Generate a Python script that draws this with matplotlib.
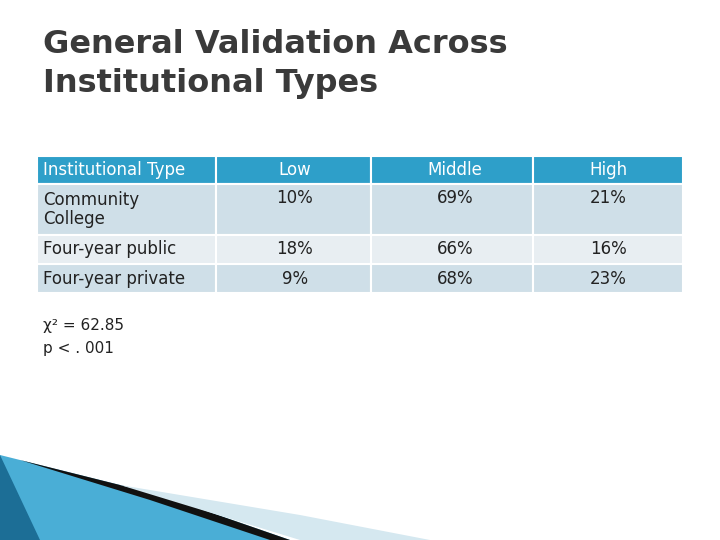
import matplotlib
matplotlib.use("Agg")
import matplotlib.pyplot as plt
from matplotlib.patches import Rectangle, Polygon

title = "General Validation Across\nInstitutional Types"
headers = ["Institutional Type", "Low", "Middle", "High"]
row_labels = ["Community\nCollege", "Four-year public", "Four-year private"]
low = ["10%", "18%", "9%"]
middle = ["69%", "66%", "68%"]
high = ["21%", "16%", "23%"]
stats_text = "χ² = 62.85\np < . 001"

fig = plt.figure(figsize=(7.2, 5.4), dpi=100)
ax = fig.add_axes([0, 0, 1, 1])
ax.set_xlim(0, 720); ax.set_ylim(540, 0); ax.axis("off")

ax.text(43, 64, title, fontsize=23, color="#3a3a3a", va="center", ha="left",
        fontweight="semibold", linespacing=1.35)

cols = [37, 216, 371, 533, 683]
rows = [156, 184, 235, 264, 293]
fills = ["#2E9FC9", "#CFDFE8", "#E8EEF2", "#CFDFE8"]
table = [headers] + [[row_labels[i], low[i], middle[i], high[i]] for i in range(3)]
for r in range(4):
    for c in range(4):
        ax.add_patch(Rectangle((cols[c], rows[r]), cols[c+1]-cols[c], rows[r+1]-rows[r],
                               facecolor=fills[r], edgecolor="white", lw=1.5))
        txt = table[r][c]
        color = "white" if r == 0 else "#222222"
        if c == 0:
            ax.text(cols[0]+6, (rows[r]+rows[r+1])/2, txt, fontsize=12, color=color,
                    va="center", ha="left", linespacing=1.1)
        else:
            xs = {1: 295, 2: 455, 3: 608}[c]
            ax.text(xs, (rows[r]+rows[r+1])/2 if r != 1 else rows[r]+14, txt, fontsize=12,
                    color=color, va="center", ha="center")

ax.text(43, 337, stats_text, fontsize=11, color="#222222", va="center", ha="left",
        linespacing=1.6)

# decorative bottom-left shapes
ax.add_patch(Polygon([(0, 455), (60, 470), (160, 495), (290, 540), (0, 540)],
                     closed=True, facecolor="#4AAED6", edgecolor="none"))
ax.add_patch(Polygon([(0, 455), (40, 540), (0, 540)], closed=True,
                     facecolor="#1C6E96", edgecolor="none"))
ax.add_patch(Polygon([(20, 460), (160, 495), (290, 540), (270, 540), (150, 500)],
                     closed=True, facecolor="#111111", edgecolor="none"))
ax.add_patch(Polygon([(120, 485), (300, 515), (430, 540), (300, 540)],
                     closed=True, facecolor="#D5E8F0", edgecolor="none"))

fig.savefig("out.png", dpi=100)
